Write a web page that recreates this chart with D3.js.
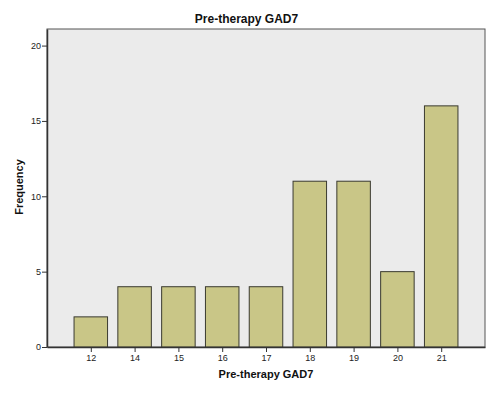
<!DOCTYPE html>
<html>
<head>
	<meta charset="utf-8">
	<script src="https://cdn.jsdelivr.net/npm/d3@7"></script>
	<style>
		body { margin: 0; background: #fff; }
		.axis text { font-family: Arial, "Liberation Sans", sans-serif; font-size: 9px; fill: #222; }
		.axis path, .axis line { stroke: #333; }
		.label { font-family: Arial, "Liberation Sans", sans-serif; font-weight: bold; fill: #111; }
	</style>
</head>
<body>
	<svg></svg>
	<script>
		var categories = ["12", "14", "15", "16", "17", "18", "19", "20", "21"];
		var frequency = [2, 4, 4, 4, 4, 11, 11, 5, 16];
		var yTicks = [0, 5, 10, 15, 20];

		var width = 493, height = 395;
		var margins = { left: 47, right: 8, top: 29, bottom: 48 };
		var plotW = width - margins.left - margins.right;
		var plotH = height - margins.top - margins.bottom;

		var svg = d3.select("svg")
			.attr("width", width)
			.attr("height", height);

		var x = d3.scalePoint()
			.domain(categories)
			.range([0, plotW])
			.padding(1);
		var y = d3.scaleLinear()
			.domain([0, 21.1])
			.range([plotH, 0]);
		var barW = x.step() * 0.765;

		var g = svg.append("g")
			.attr("transform", "translate(" + margins.left + "," + margins.top + ")");

		g.append("rect")
			.attr("width", plotW)
			.attr("height", plotH)
			.attr("fill", "#ebebeb")
			.attr("stroke", "#555")
			.attr("stroke-width", 1);

		g.selectAll(".bar")
			.data(frequency)
			.enter()
			.append("rect")
			.attr("class", "bar")
			.attr("x", (d, i) => x(categories[i]) - barW / 2)
			.attr("y", d => y(d))
			.attr("width", barW)
			.attr("height", d => plotH - y(d))
			.attr("fill", "#c9c687")
			.attr("stroke", "#3a3a30")
			.attr("stroke-width", 1);

		g.append("g")
			.attr("class", "axis")
			.attr("transform", "translate(0," + plotH + ")")
			.call(d3.axisBottom(x).tickSize(5).tickSizeOuter(0).tickPadding(3))
			.call(a => a.select(".domain").attr("stroke-width", 1.5));

		g.append("g")
			.attr("class", "axis")
			.call(d3.axisLeft(y).tickValues(yTicks).tickSize(5).tickSizeOuter(0).tickPadding(1))
			.call(a => a.select(".domain").attr("stroke-width", 1.5));

		svg.append("text")
			.attr("class", "label")
			.attr("x", width / 2)
			.attr("y", 23)
			.attr("text-anchor", "middle")
			.attr("font-size", 12)
			.text("Pre-therapy GAD7");

		svg.append("text")
			.attr("class", "label")
			.attr("x", margins.left + plotW / 2)
			.attr("y", 378)
			.attr("text-anchor", "middle")
			.attr("font-size", 11)
			.text("Pre-therapy GAD7");

		svg.append("text")
			.attr("class", "label")
			.attr("transform", "translate(23,187) rotate(-90)")
			.attr("text-anchor", "middle")
			.attr("font-size", 11)
			.text("Frequency");
	</script>
</body>
</html>
